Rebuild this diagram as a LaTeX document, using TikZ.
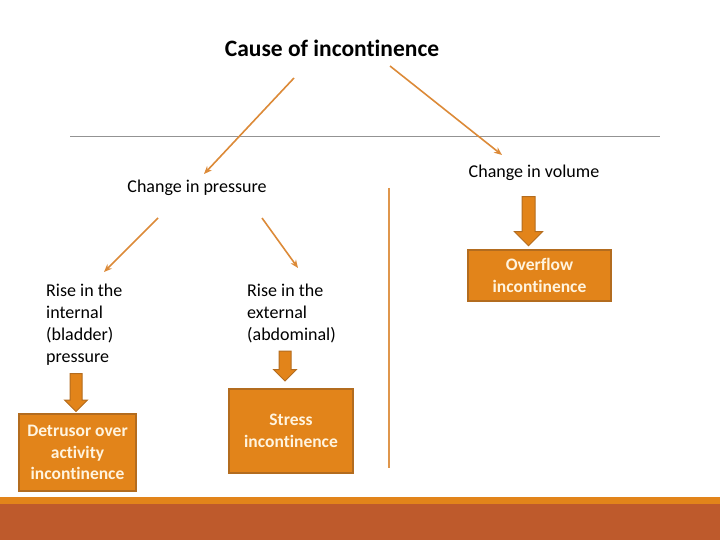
\documentclass[tikz,border=0pt]{standalone}
\usepackage{fontspec}
\setmainfont{Carlito}[Ligatures=NoCommon]
\usetikzlibrary{positioning, arrows.meta, shapes.arrows, calc}
\definecolor{accorange}{HTML}{E2841A}
\definecolor{accborder}{HTML}{B36C1F}
\definecolor{acclink}{HTML}{DC8A38}
\definecolor{accbar}{HTML}{BE5A2C}
\definecolor{acctext}{HTML}{FFF4DF}

\begin{document}
\begin{tikzpicture}[x=1pt, y=-1pt,
                heading/.style={font=\fontsize{23.5}{28}\selectfont\bfseries, inner sep=0pt},
                cause/.style={font=\fontsize{18}{22}\selectfont, inner sep=0pt},
                rise/.style={align=left, font=\fontsize{18}{22}\selectfont, inner sep=0pt, anchor=north west},
                outcome/.style={draw=accborder, line width=2pt, fill=accorange, text=acctext, font=\fontsize{17.5}{21.5}\selectfont\bfseries, align=center, inner sep=0pt},
                link/.style={draw=acclink, line width=1.6pt, -{Stealth[length=8pt, width=6.5pt]}},
                blockarrow/.style={single arrow, shape border rotate=270, draw=accborder, line width=1pt, fill=accorange, inner ysep=0pt, inner xsep=5.5pt, minimum width=0pt, single arrow head extend=5.5pt}
            ]
            \useasboundingbox (0,0) rectangle (720,540);

            % bottom bars
            \fill[accbar] (0,504) rectangle (720,540);
            \fill[accorange] (0,497) rectangle (720,504);

            % separators
            \draw[gray!85, line width=0.8pt] (70,136) -- (660,136);
            \draw[acclink!90!white, line width=1.6pt] (389,188) -- (389,468);

            % nodes
            \node[heading] (cause) at (332,48) {Cause of incontinence};
            \node[cause] (press) at (197,188) {Change in pressure};
            \node[cause] (vol) at (534,173) {Change in volume};
            \node[rise] (internal) at (46,284) {Rise in the\\internal\\(bladder)\\pressure};
            \node[rise] (external) at (247,284) {Rise in the\\external\\(abdominal)};

            \node[blockarrow, minimum height=38pt] (arrint) at (76,389.5) {};
            \node[blockarrow, minimum height=30pt] (arrext) at (285,363) {};
            \node[blockarrow, minimum height=49pt, inner xsep=6pt, single arrow head extend=7.5pt] (arrvol) at (528.5,218) {};

            \node[outcome, minimum width=117pt, minimum height=77pt] (detrusor) at (77.5,452.5) {Detrusor over\\activity\\incontinence};
            \node[outcome, minimum width=124pt, minimum height=84pt] (stress) at (291,431) {Stress\\incontinence};
            \node[outcome, minimum width=143pt, minimum height=51pt] (overflow) at (539.5,275.5) {Overflow\\incontinence};

            % free ends of the links
            \coordinate (causeL) at (294,78);
            \coordinate (causeR) at (390,66);
            \coordinate (pressL) at (158,218);
            \coordinate (pressR) at (262,218);
            \coordinate (pressTip) at (204,174);
            \coordinate (volTip) at (502,155);
            \coordinate (intTip) at (104,272);
            \coordinate (extTip) at (298,268);

            % links
            \draw[link] (causeL) -- (pressTip);
            \draw[link] (causeR) -- (volTip);
            \draw[link] (pressL) -- (intTip);
            \draw[link] (pressR) -- (extTip);

        \end{tikzpicture}
\end{document}
